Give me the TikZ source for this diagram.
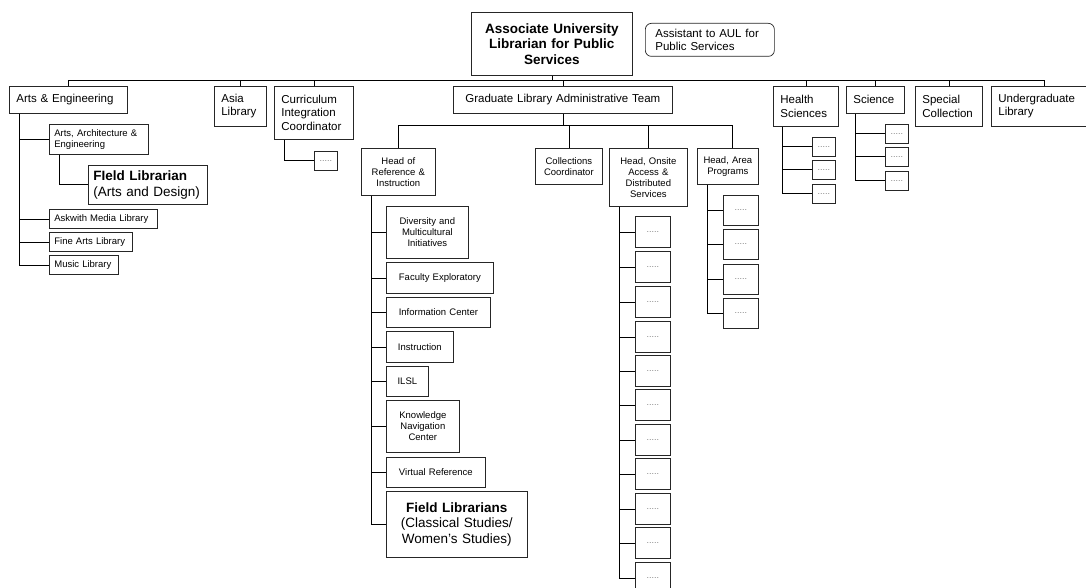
\documentclass[tikz,border=0pt]{standalone}
\usepackage{fontspec}
\setmainfont{Liberation Sans}
\hyphenpenalty=10000
\exhyphenpenalty=10000

\begin{document}
\begin{tikzpicture}[x=1pt,y=-1pt]

      \useasboundingbox (0,0) rectangle (1086,588);

      \begin{scope}[every node/.style={draw=black!85,line width=.7pt,anchor=north west,inner ysep=0pt}]

        % head of the chart and first row
        \begin{scope}[every node/.append style={inner xsep=7pt,align=left,font=\fontsize{11.5}{13.3}\selectfont}]
          \node[text width=104pt,minimum height=27pt] (ae)   at (9,86)   {Arts \& Engineering};
          \node[text width=38pt,minimum height=40pt]  (asia) at (214,86) {Asia\\Library};
          \node[text width=65pt,minimum height=53pt]  (cic)  at (274,86) {Curriculum\\Integration\\Coordinator};
          \node[text width=205pt,minimum height=27pt,align=center] (glat) at (453,86) {Graduate Library Administrative Team};
          \node[text width=51pt,minimum height=40pt]  (hs)   at (773,86) {Health\\Sciences};
          \node[text width=44pt,minimum height=27pt]  (sci)  at (846,86) {Science};
          \node[text width=53pt,minimum height=40pt]  (spc)  at (915,86) {Special\\Collection};
          \node[text width=91pt,minimum height=40pt]  (ug)   at (991,86) {Undergraduate\\Library};
          \node[rounded corners=6pt,inner xsep=10pt,text width=109pt,minimum height=33pt] (asst) at (645,23) {Assistant to AUL for\\Public Services};
        \end{scope}

        \begin{scope}[every node/.append style={inner xsep=5pt,font=\fontsize{13.5}{15.5}\selectfont}]
          \node[text width=151pt,minimum height=63pt,align=center,font=\fontsize{13.5}{15.5}\selectfont\bfseries] (aul) at (471,12) {Associate University\\Librarian for Public\\Services};
          \node[text width=109pt,minimum height=39pt,align=left]   (fl1) at (88,165)  {{\bfseries FIeld Librarian}\\(Arts and Design)};
          \node[text width=131pt,minimum height=66pt,align=center] (fl2) at (386,491) {{\bfseries Field Librarians}\\(Classical Studies/\\Women's Studies)};
        \end{scope}

        \begin{scope}[every node/.append style={inner xsep=5pt,font=\fontsize{9.5}{11}\selectfont}]
          \node[text width=89pt,minimum height=30pt,align=left] (aae)      at (49,124) {Arts, Architecture \&\\Engineering};
          \node[text width=98pt,minimum height=19pt,align=left] (askwith)  at (49,209) {Askwith Media Library};
          \node[text width=73pt,minimum height=19pt,align=left] (finearts) at (49,232) {Fine Arts Library};
          \node[text width=59pt,minimum height=19pt,align=left] (music)    at (49,255) {Music Library};

          \node[text width=64pt,minimum height=47pt,align=center] (hri)  at (361,148) {Head of\\Reference \&\\Instruction};
          \node[text width=57pt,minimum height=36pt,align=center] (cc)   at (535,148) {Collections\\Coordinator};
          \node[text width=68pt,minimum height=58pt,align=center] (hoa)  at (609,148) {Head, Onsite\\Access \&\\Distributed\\Services};
          \node[text width=51pt,minimum height=36pt,align=center] (hap)  at (697,148) {Head, Area\\Programs};

          \node[text width=72pt,minimum height=52pt,align=center] (div)  at (386,206) {Diversity and\\Multicultural\\Initiatives};
          \node[text width=97pt,minimum height=31pt,align=center] (fex)  at (386,262) {Faculty Exploratory};
          \node[text width=94pt,minimum height=30pt,align=center] (inf)  at (386,297) {Information Center};
          \node[text width=57pt,minimum height=31pt,align=center] (ins)  at (386,331) {Instruction};
          \node[text width=32pt,minimum height=30pt,align=center] (ilsl) at (386,366) {ILSL};
          \node[text width=63pt,minimum height=52pt,align=center] (knc)  at (386,400) {Knowledge\\Navigation\\Center};
          \node[text width=89pt,minimum height=30pt,align=center] (vr)   at (386,457) {Virtual Reference};
        \end{scope}

        % empty boxes
        \begin{scope}[every node/.append style={inner sep=0pt,text=gray,font=\fontsize{9}{10}\selectfont}]
          \begin{scope}[every node/.append style={minimum width=23pt,minimum height=19pt}]
            \node (cicd) at (314,151) {.....};
            \node (hs1)  at (812,137) {.....};
            \node (hs2)  at (812,160) {.....};
            \node (hs3)  at (812,184) {.....};
            \node (sci1) at (885,124) {.....};
            \node (sci2) at (885,147) {.....};
            \node (sci3) at (885,171) {.....};
          \end{scope}
          \begin{scope}[every node/.append style={minimum width=35pt,minimum height=30pt}]
            \node (hap1) at (723,195) {.....};
            \node (hap2) at (723,229) {.....};
            \node (hap3) at (723,264) {.....};
            \node (hap4) at (723,298) {.....};
          \end{scope}
          \begin{scope}[every node/.append style={minimum width=35pt,minimum height=31pt}]
            \node (hoa1)  at (635,216) {.....};
            \node (hoa2)  at (635,251) {.....};
            \node (hoa3)  at (635,286) {.....};
            \node (hoa4)  at (635,321) {.....};
            \node (hoa5)  at (635,355) {.....};
            \node (hoa6)  at (635,389) {.....};
            \node (hoa7)  at (635,424) {.....};
            \node (hoa8)  at (635,458) {.....};
            \node (hoa9)  at (635,493) {.....};
            \node (hoa10) at (635,527) {.....};
            \node (hoa11) at (635,562) {.....};
          \end{scope}
        \end{scope}
      \end{scope}

      % connectors
      \begin{scope}[line width=.7pt]
        \coordinate (bus)  at (0,80);
        \coordinate (gbus) at (0,125);
        \coordinate (aetrunk)  at ([xshift=10pt]ae.south west);
        \coordinate (hritrunk) at ([xshift=10pt]hri.south west);
        \coordinate (hoatrunk) at ([xshift=10pt]hoa.south west);
        \coordinate (haptrunk) at ([xshift=10pt]hap.south west);
        \coordinate (hstrunk)  at ([xshift=9pt]hs.south west);
        \coordinate (scitrunk) at ([xshift=9pt]sci.south west);

        \draw (ae.north) -- (ae.north |- bus) -| (ug.north);
        \draw (aul.south)  -- (aul.south |- bus);
        \draw (asia.north) -- (asia.north |- bus);
        \draw (cic.north)  -- (cic.north |- bus);
        \draw (glat.north) -- (glat.north |- bus);
        \draw (hs.north)   -- (hs.north |- bus);
        \draw (sci.north)  -- (sci.north |- bus);
        \draw (spc.north)  -- (spc.north |- bus);

        \draw (aetrunk) |- (music.west);
        \draw (aae.west)      -- (aae.west -| aetrunk);
        \draw (askwith.west)  -- (askwith.west -| aetrunk);
        \draw (finearts.west) -- (finearts.west -| aetrunk);
        \draw ([xshift=10pt]aae.south west) |- (fl1.west);

        \draw ([xshift=10pt]cic.south west) |- (cicd.west);

        \draw (hri.north) -- (hri.north |- gbus) -| ([xshift=4pt]hap.north);
        \draw (glat.south) -- (glat.south |- gbus);
        \draw (cc.north)   -- (cc.north |- gbus);
        \draw (hoa.north)  -- (hoa.north |- gbus);

        \draw (hritrunk) |- (fl2.west);
        \draw (div.west)  -- (div.west -| hritrunk);
        \draw (fex.west)  -- (fex.west -| hritrunk);
        \draw (inf.west)  -- (inf.west -| hritrunk);
        \draw (ins.west)  -- (ins.west -| hritrunk);
        \draw (ilsl.west) -- (ilsl.west -| hritrunk);
        \draw (knc.west)  -- (knc.west -| hritrunk);
        \draw (vr.west)   -- (vr.west -| hritrunk);

        \draw (hoatrunk) |- (hoa11.west);
        \draw (hoa1.west)  -- (hoa1.west -| hoatrunk);
        \draw (hoa2.west)  -- (hoa2.west -| hoatrunk);
        \draw (hoa3.west)  -- (hoa3.west -| hoatrunk);
        \draw (hoa4.west)  -- (hoa4.west -| hoatrunk);
        \draw (hoa5.west)  -- (hoa5.west -| hoatrunk);
        \draw (hoa6.west)  -- (hoa6.west -| hoatrunk);
        \draw (hoa7.west)  -- (hoa7.west -| hoatrunk);
        \draw (hoa8.west)  -- (hoa8.west -| hoatrunk);
        \draw (hoa9.west)  -- (hoa9.west -| hoatrunk);
        \draw (hoa10.west) -- (hoa10.west -| hoatrunk);

        \draw (haptrunk) |- (hap4.west);
        \draw (hap1.west) -- (hap1.west -| haptrunk);
        \draw (hap2.west) -- (hap2.west -| haptrunk);
        \draw (hap3.west) -- (hap3.west -| haptrunk);

        \draw (hstrunk) |- (hs3.west);
        \draw (hs1.west) -- (hs1.west -| hstrunk);
        \draw (hs2.west) -- (hs2.west -| hstrunk);

        \draw (scitrunk) |- (sci3.west);
        \draw (sci1.west) -- (sci1.west -| scitrunk);
        \draw (sci2.west) -- (sci2.west -| scitrunk);
      \end{scope}

    \end{tikzpicture}
\end{document}
